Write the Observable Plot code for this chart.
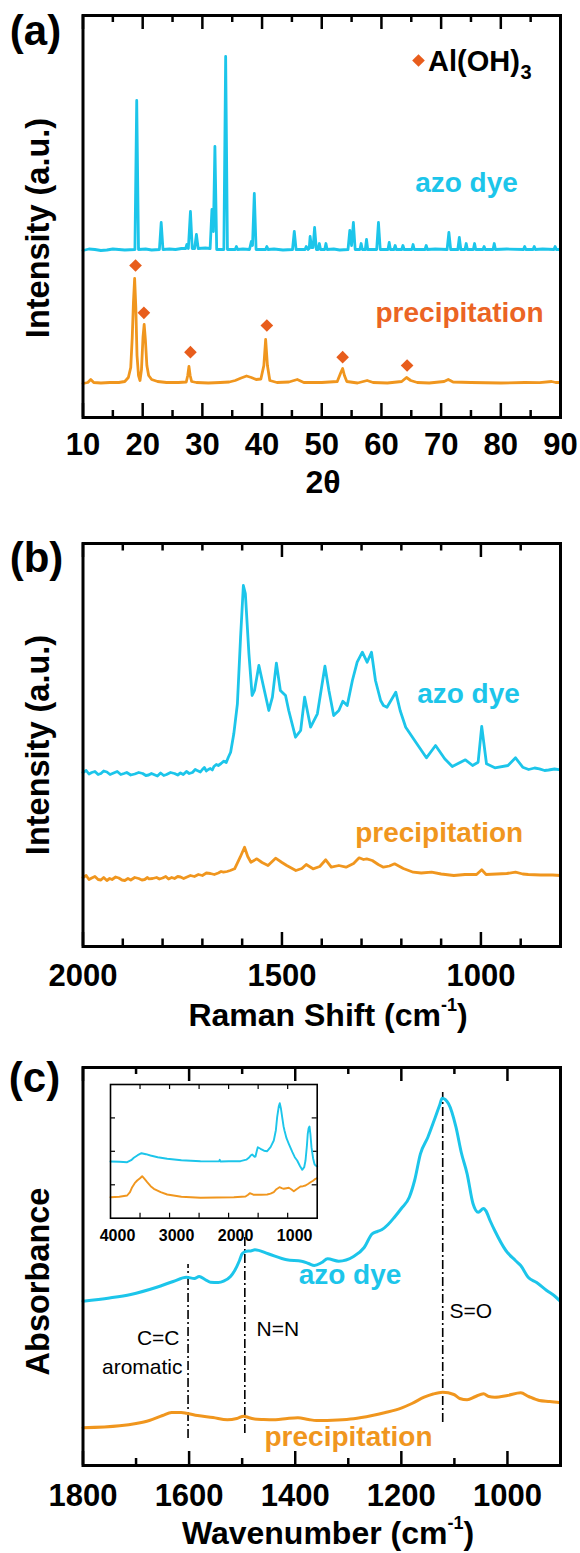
<!DOCTYPE html>
<html>
<head>
<meta charset="utf-8">
<script src="https://cdn.jsdelivr.net/npm/d3@7"></script>
<script src="https://cdn.jsdelivr.net/npm/@observablehq/plot@0.6"></script>
<style>
  body { margin: 0; background: #fff; }
  #wrap { position: relative; width: 580px; height: 1553px; overflow: hidden; background: #fff;
          font-family: "Liberation Sans", Arial, Helvetica, sans-serif; }
  #wrap svg { position: absolute; display: block; overflow: visible; }
  .title { position: absolute; font-weight: bold; font-size: 32px; line-height: 1; white-space: nowrap;
           transform: translateX(-50%); color: #000; }
  .title sup { font-size: 18px; vertical-align: baseline; position: relative; top: -15px; }
</style>
</head>
<body>
<div id="wrap"></div>
<script>
// ---------------- DATA ----------------
// (a) XRD: [2theta, intensity a.u.]
const xrdAzoDye = [
  [10,167],[11,168.5],[12,168],[13,167],[14,167.5],[15,168.5],[16,168],[17,167.5],[18.7,168],[19.0,317],[19.3,168],
  [20.5,168.5],[21.5,167.5],[22.8,168],[23.1,195],[23.4,168],[24.5,168.5],[25.5,168],
  [26.5,169],[27.2,169],[27.4,173],[27.65,169],[28.0,206],[28.3,169],[28.7,169],[29.0,183],[29.3,169],
  [30.5,169.5],[31.3,169],[31.6,208],[31.85,186],[32.1,271],[32.4,168],
  [33.6,168],[33.9,361],[34.2,168],
  [35.5,168],[35.7,171],[35.9,168],[36.8,168.5],
  [37.9,168],[38.2,176],[38.4,172],[38.7,224],[39.0,168],
  [40.6,168],[40.8,171],[41.0,168],[42,168.5],[43.5,167.5],
  [45.1,168],[45.4,186],[45.7,168],
  [47.2,168],[47.4,171],[47.7,168],[47.9,169],[48.05,181],[48.3,170],[48.55,170],[48.8,190],[49.1,168],[49.4,168],[49.6,174],[49.8,168],
  [50.5,168],[50.7,174],[50.9,168],[52,168.5],[53,167.5],
  [54.4,168],[54.7,187],[55.0,172],[55.3,195],[55.6,168],
  [56.4,168],[56.6,174],[56.8,168],[57.3,168],[57.5,178],[57.7,168],
  [59.2,168],[59.5,195],[59.8,168],
  [61.1,168],[61.3,175],[61.5,168],[62.1,168],[62.3,172],[62.5,168],[63.4,168],[63.6,172],[63.8,168],
  [65.1,168],[65.3,173],[65.5,168],[67.3,168],[67.5,172],[67.7,168],[69,168.5],
  [71.0,168],[71.3,185],[71.6,168],[72.8,168],[73.05,180],[73.3,168],[74.0,168],[74.2,174],[74.4,168],
  [75.4,168],[75.6,174],[75.8,168],[77.0,168],[77.2,171],[77.4,168],[78.7,168],[78.9,174],[79.1,168],
  [81,168.5],[83.8,168],[84.0,171],[84.2,168],[85.4,168],[85.6,171],[85.8,168],[87,168.5],[88.9,168],[89.1,171],[89.3,168],[90,168]
];
const xrdPrecip = [
  [10,34],[10.8,35],[11.3,38],[11.8,35],[13,34.5],[14.5,35],[16,35],[17.0,36],[17.6,40],[18.0,50],
  [18.25,80],[18.45,115],[18.65,139],[18.85,110],[19.05,62],[19.3,42],[19.55,37],[19.8,48],[20.05,80],
  [20.25,93],[20.45,78],[20.7,52],[21.0,42],[21.5,38],[22.5,36],[24,35],[26,35],[27.3,35.5],[27.55,42],
  [27.75,51],[27.95,42],[28.2,36],[29,35],[31,34.5],[33,35],[34.5,35.5],[35.5,37],[36.5,39.5],[37.4,41.5],
  [38.2,40],[39.0,38],[39.8,38.5],[40.3,52],[40.6,78],[40.9,52],[41.3,37],[42.5,35],[44.5,35.5],[45.9,38],
  [47,35],[50,35],[52.6,36],[53.2,45],[53.5,49],[53.8,42],[54.2,36],[56,34.5],[57.6,37],[58.6,35],[61,34.5],
  [63.4,36],[64.2,40],[64.9,37],[66,35],[68,34.5],[70.5,36],[71.2,38],[72,35.5],[75,35],[80,34.5],[84,35],
  [86.5,34.8],[88.5,36],[89.2,35],[90,35]
];
// Al(OH)3 reflections marked with diamonds: [2theta, marker height]
const gibbsitePeaks = [[18.8,152],[20.2,104.7],[28.0,65.3],[40.8,92],[53.5,60.3],[64.3,52]];
const xrdTickLabels = [10,20,30,40,50,60,70,80,90];
const xrdMinorTicks = [15,25,35,45,55,65,75,85];

// (b) Raman: [Raman shift cm-1, intensity a.u.]
const ramanAzoDye = [
  [2000,174],[1992,176],[1985,172.5],[1978,174],[1970,175],[1962,172],[1955,173],[1948,175.5],[1940,174.5],[1932,172],
  [1923,173.5],[1914,175],[1905,172],[1897,173],[1890,174],[1880,171.5],[1870,172.5],[1860,174],[1850,173],[1842,171],
  [1835,171.5],[1828,173],[1822,172],[1813,170.5],[1805,173.5],[1797,171],[1790,172],[1780,174],[1770,173],[1762,171.5],
  [1755,173.5],[1748,172],[1740,175],[1733,173],[1725,174],[1718,177],[1713,176],[1705,174.5],[1700,177],[1695,179],
  [1690,175.5],[1685,177],[1680,178],[1675,176.5],[1671,180],[1665,182],[1660,181],[1653,183],[1646,185.3],[1640,184],
  [1635,189],[1629,194.3],[1621,212.7],[1612,242.7],[1604,309.3],[1597,361],[1592,353],[1583,292.7],[1575,251],[1569,256],[1558,281],
  [1546,259.3],[1533,236],[1524,249.3],[1514,283.3],[1504,256],[1491,251],[1483,236],[1466,209.3],[1453,216],
  [1443,249.3],[1428,219.3],[1411,232.7],[1403,252.7],[1392,280.3],[1382,256],[1370,231],[1357,236],[1347,245.3],
  [1336,241],[1323,266],[1311,284.3],[1298,294.3],[1286,284.3],[1275,294.3],[1265,266],[1252,246],[1245,241],
  [1236,239.3],[1214,254.3],[1203,236],[1189,219.3],[1161,202.7],[1137,188.7],[1114,201],[1091,187.7],[1072,180],
  [1039,186.7],[1021,181],[1007,184.3],[998,220],[986,182.7],[965,178.7],[932,181],[913,188.7],[895,179.3],
  [880,177],[865,178.5],[853,177.7],[840,176],[830,176.5],[815,177.5],[800,176.7]
];
const ramanPrecip = [
  [2000,69],[1992,71],[1985,67],[1978,68.5],[1970,70],[1962,67],[1955,66.5],[1948,69],[1940,66],[1933,68],
  [1927,67],[1918,69.5],[1910,68.5],[1902,66.5],[1895,66],[1887,68],[1880,66.5],[1870,69],[1860,68],[1852,66.5],
  [1845,67],[1838,69],[1834,67.7],[1825,68],[1815,69],[1808,67.5],[1800,68.5],[1792,70],[1785,67.5],[1777,69],
  [1770,68],[1762,70],[1755,69.5],[1747,68],[1740,69.3],[1730,71],[1720,70],[1710,72],[1700,71],[1690,73.5],
  [1680,73],[1670,72],[1660,73.5],[1653,75],[1647,74.3],[1638,75],[1630,76],[1619,77.7],[1605,89.3],[1594,99.3],[1586,90],[1578,84.3],
  [1563,87.7],[1550,84],[1535,81],[1516,88.3],[1500,84],[1488,81],[1465,76],[1450,78],[1439,82],[1422,77.7],
  [1405,80],[1390,86.7],[1376,79.3],[1357,81],[1339,79.3],[1320,83],[1306,88.7],[1295,87],[1287,87.7],[1273,86],
  [1258,82],[1245,79.3],[1230,80.5],[1217,82.7],[1195,78],[1170,74.3],[1150,73.5],[1124,74.3],[1100,72.5],
  [1068,71],[1040,72],[1011,72],[998,76.7],[987,72],[960,72.5],[935,73],[913,74.3],[895,72.5],[881,72],
  [850,71.5],[820,71.5],[800,71]
];
const ramanTickLabels = [2000,1500,1000];
const ramanMinorTicks = [1900,1800,1700,1600,1400,1300,1200,1100,900];

// (c) FTIR: [wavenumber cm-1, absorbance a.u.]
const ftirAzoDye = [
  [1800,164.3],[1750,167.5],[1710,171],[1661,178.3],[1630,184],[1605,188.3],[1590,187],[1581,189],[1570,186],
  [1560,183.3],[1545,183],[1535,184.3],[1522,189],[1514,195],[1505,205],[1500,211.7],[1492,214.3],[1484,214.5],
  [1476,215.7],[1451,211.7],[1416,205.7],[1388,204.3],[1375,202],[1364,200],[1350,203],[1339,206.7],[1318,204.3],
  [1290,209],[1270,218],[1255,231.7],[1245,234],[1237,235.7],[1225,241],[1213,248.3],[1200,257],[1185,268.3],
  [1175,285],[1164,311.7],[1150,328.3],[1136,348.3],[1128,360],[1123,367.3],[1111,361.7],[1097,338.3],[1087,313],
  [1076,291.7],[1065,262],[1055,253.3],[1045,257],[1041,255],[1032,244],[1024,235],[1003,215],[985,205],[975,200],
  [961,188.3],[945,183],[926,175],[910,169],[900,164]
];
const ftirPrecip = [
  [1800,37.7],[1731,39.7],[1700,42],[1675,45],[1650,50],[1633,53],[1615,53],[1605,52.3],[1584,50],[1555,48],
  [1528,45.7],[1510,47],[1497,49.3],[1488,48],[1479,46.7],[1460,46],[1437,45.7],[1415,47],[1395,47.7],[1375,46],
  [1360,45],[1320,45.5],[1290,46.7],[1255,50],[1230,53],[1199,57.7],[1180,62],[1157,68.3],[1140,71.5],[1122,73.3],
  [1101,71],[1090,67],[1076,65.7],[1060,69],[1045,71.7],[1035,69],[1024,68.3],[1000,70],[975,72.7],[960,69],
  [940,65],[920,64],[900,62.7]
];
// band markers: [wavenumber, lower end, upper end]
const ftirBands = [[1602,27,201],[1495,32,230],[1122,43,373]];
const ftirTickLabels = [1800,1600,1400,1200,1000];
const ftirMinorTicks = [1700,1500,1300,1100,900];

// (c) inset, full range FTIR
const insetAzoDye = [
  [4000,56.7],[3850,56.5],[3718,56],[3650,58],[3605,60.4],[3540,63],[3475,65],[3400,64],[3323,62.7],[3200,61],
  [3040,59.4],[2800,58],[2476,57],[2200,56.8],[2160,57],[2150,58.4],[2138,56.7],[2000,57],[1799,57],[1700,58.5],
  [1658,60.4],[1620,63],[1601,63.7],[1560,61.5],[1545,61.7],[1520,68],[1506,71],[1460,69.4],[1400,67.5],[1347,67],
  [1290,71],[1235,77.7],[1200,88],[1178,101],[1150,112],[1134,115],[1115,110],[1093,101],[1070,92],[1054,87.7],
  [1020,80],[981,74.4],[920,66],[880,61],[839,57.7],[790,52],[754,48.4],[720,51],[698,57.7],[675,72],[660,84.4],
  [645,90],[630,91.7],[615,84],[597,71],[570,60],[545,54],[529,52.7],[500,51.7]
];
const insetPrecip = [
  [4000,21],[3850,21.5],[3718,22.7],[3670,26],[3633,31],[3590,35],[3548,37.7],[3500,40],[3464,42],[3420,39],
  [3379,36],[3320,32],[3266,29.4],[3150,26],[3040,23.7],[2800,21.5],[2476,20.4],[2200,20.7],[1912,21],[1714,21.7],
  [1670,23.5],[1641,25],[1600,24],[1574,23.4],[1450,23.5],[1347,23.7],[1290,24.5],[1235,26],[1190,29],[1139,31],
  [1100,30],[1066,29.4],[1020,30],[981,30.4],[940,29],[896,27],[850,29],[783,31.7],[740,32],[698,32.7],[650,34.5],
  [613,36],[570,37.5],[529,39.4],[500,40]
];
const insetTickLabels = [4000,3000,2000,1000];
const insetXTicks = [3500,3000,2500,2000,1500,1000];
const insetYTicks = [33.4,66.9,100.3];

// ---------------- STYLE ----------------
const CYAN = "#1cc5ea", ORANGE = "#f0961e", RED = "#e85d1c";
const FONT = '"Liberation Sans", Arial, Helvetica, sans-serif';
const wrap = document.getElementById("wrap");

function place(el, left, top) {
  el.style.left = left + "px"; el.style.top = top + "px"; wrap.appendChild(el);
}
function edgeTicks(H, major, minor, longLen, shortLen, sw) {
  const m = [];
  for (const [vals, len] of [[major, longLen], [minor, shortLen]]) {
    m.push(Plot.ruleX(vals, {x: d => d, insetTop: H - len, stroke: "#000", strokeWidth: sw}));
    m.push(Plot.ruleX(vals, {x: d => d, insetBottom: H - len, stroke: "#000", strokeWidth: sw}));
  }
  return m;
}
// text placed in page pixels relative to the frame's top-left corner
function label(P, str, px, py, o = {}) {
  return Plot.text([str], {
    text: d => d, frameAnchor: "top-left",
    dx: px - P.ml, dy: py - (P.top + P.mt),
    fontSize: 28, fontWeight: "bold", fill: "#000", lineAnchor: "middle", textAnchor: "middle", ...o
  });
}
const xy = {x: d => d[0], y: d => d[1]};

// ---------------- PANEL (a) ----------------
const PA = {top: 0, height: 510, ml: 82.5, mr: 20, mt: 15, mb: 93};
const HA = PA.height - PA.mt - PA.mb;
const plotA = Plot.plot({
  width: 580, height: PA.height,
  marginLeft: PA.ml, marginRight: PA.mr, marginTop: PA.mt, marginBottom: PA.mb,
  x: {domain: [10, 90], axis: null}, y: {domain: [0, HA], axis: null},
  style: {fontFamily: FONT, background: "transparent", overflow: "visible"},
  marks: [
    ...edgeTicks(HA, xrdTickLabels, xrdMinorTicks, 14, 7, 2.5),
    Plot.line(xrdAzoDye, {...xy, stroke: CYAN, strokeWidth: 2.8}),
    Plot.line(xrdPrecip, {...xy, stroke: ORANGE, strokeWidth: 2.8}),
    Plot.dot(gibbsitePeaks, {...xy, symbol: "diamond2", r: 5.7, fill: RED, stroke: "none"}),
    Plot.frame({stroke: "#000", strokeWidth: 3}),
    Plot.text(xrdTickLabels, {x: d => d, text: d => String(d), frameAnchor: "bottom", dy: 445 - 417,
      fontSize: 31, fontWeight: "bold", fill: "#000", lineAnchor: "middle", textAnchor: "middle"}),
    label(PA, "azo dye", 466, 183, {fill: CYAN}),
    label(PA, "precipitation", 459, 313, {fill: "#eb6424"}),
    Plot.dot([0], {frameAnchor: "top-left", dx: 418 - PA.ml, dy: 60 - PA.mt, symbol: "diamond2", r: 5.7, fill: RED, stroke: "none"}),
    label(PA, "Al(OH)", 427.5, 61, {textAnchor: "start", fontSize: 29}),
    label(PA, "3", 520, 72, {textAnchor: "start", fontSize: 20}),
    label(PA, "(a)", 35, 15, {fontSize: 42, lineAnchor: "top"}),
    label(PA, "Intensity (a.u.)", 37.6, 227.5, {fontSize: 32.5, rotate: -90}),
    label(PA, "2θ", 322.6, 482.5, {fontSize: 32})
  ]
});
place(plotA, 0, PA.top);

// ---------------- PANEL (b) ----------------
const PB = {top: 510, height: 530, ml: 82.5, mr: 20, mt: 33, mb: 94};
const HB = PB.height - PB.mt - PB.mb;
const plotB = Plot.plot({
  width: 580, height: PB.height,
  marginLeft: PB.ml, marginRight: PB.mr, marginTop: PB.mt, marginBottom: PB.mb,
  x: {domain: [2000, 800], axis: null}, y: {domain: [0, HB], axis: null},
  style: {fontFamily: FONT, background: "transparent", overflow: "visible"},
  marks: [
    ...edgeTicks(HB, ramanTickLabels, ramanMinorTicks, 14, 7.5, 2.5),
    Plot.line(ramanAzoDye, {...xy, stroke: CYAN, strokeWidth: 2.8}),
    Plot.line(ramanPrecip, {...xy, stroke: ORANGE, strokeWidth: 2.8}),
    Plot.frame({stroke: "#000", strokeWidth: 3}),
    Plot.text(ramanTickLabels, {x: d => d, text: d => String(d), frameAnchor: "bottom", dy: 976 - 946,
      fontSize: 31, fontWeight: "bold", fill: "#000", lineAnchor: "middle", textAnchor: "middle"}),
    label(PB, "azo dye", 468, 694, {fill: CYAN}),
    label(PB, "precipitation", 438.7, 833, {fill: ORANGE}),
    label(PB, "(b)", 36, 542, {fontSize: 42, lineAnchor: "top"}),
    label(PB, "Intensity (a.u.)", 37.6, 744.5, {fontSize: 32.5, rotate: -90})
  ]
});
place(plotB, 0, PB.top);

// ---------------- PANEL (c) ----------------
const PC = {top: 1040, height: 513, ml: 82.5, mr: 20, mt: 27, mb: 88};
const HC = PC.height - PC.mt - PC.mb;
const plotC = Plot.plot({
  width: 580, height: PC.height,
  marginLeft: PC.ml, marginRight: PC.mr, marginTop: PC.mt, marginBottom: PC.mb,
  x: {domain: [1800, 900], axis: null}, y: {domain: [0, HC], axis: null},
  style: {fontFamily: FONT, background: "transparent", overflow: "visible"},
  marks: [
    ...edgeTicks(HC, ftirTickLabels, ftirMinorTicks, 14, 7, 2.5),
    Plot.ruleX(ftirBands, {x: d => d[0], y1: d => d[1], y2: d => d[2], stroke: "#000", strokeWidth: 1.6,
      strokeDasharray: "9,3,2,3"}),
    Plot.line(ftirAzoDye, {...xy, stroke: CYAN, strokeWidth: 3, curve: "monotone-x"}),
    Plot.line(ftirPrecip, {...xy, stroke: ORANGE, strokeWidth: 3, curve: "monotone-x"}),
    Plot.frame({stroke: "#000", strokeWidth: 3}),
    Plot.text(ftirTickLabels, {x: d => d, text: d => String(d), frameAnchor: "bottom", dy: 1496 - 1465,
      fontSize: 31, fontWeight: "bold", fill: "#000", lineAnchor: "middle", textAnchor: "middle"}),
    label(PC, "azo dye", 349.5, 1275, {fill: CYAN}),
    label(PC, "precipitation", 348, 1437, {fill: ORANGE}),
    label(PC, "C=C", 179, 1337.5, {fontSize: 21, fontWeight: "normal", textAnchor: "end"}),
    label(PC, "aromatic", 182, 1366.3, {fontSize: 21, fontWeight: "normal", textAnchor: "end"}),
    label(PC, "N=N", 256, 1329, {fontSize: 21, fontWeight: "normal", textAnchor: "start"}),
    label(PC, "S=O", 449, 1311, {fontSize: 21, fontWeight: "normal", textAnchor: "start"}),
    label(PC, "(c)", 34, 1062, {fontSize: 42, lineAnchor: "top"}),
    label(PC, "Absorbance", 37.6, 1281, {fontSize: 32.5, rotate: -90})
  ]
});
place(plotC, 0, PC.top);

// ---------------- INSET ----------------
const PI = {left: 90, top: 1074, width: 240, height: 180, ml: 20, mr: 13.3, mt: 10, mb: 36.3};
const HI = PI.height - PI.mt - PI.mb;
const WI = PI.width - PI.ml - PI.mr;
const plotI = Plot.plot({
  width: PI.width, height: PI.height,
  marginLeft: PI.ml, marginRight: PI.mr, marginTop: PI.mt, marginBottom: PI.mb,
  x: {domain: [4000, 500], axis: null}, y: {domain: [0, HI], axis: null},
  style: {fontFamily: FONT, background: "transparent", overflow: "visible"},
  marks: [
    Plot.ruleX(insetXTicks, {x: d => d, insetTop: HI - 5, stroke: "#000", strokeWidth: 1.2}),
    Plot.ruleX(insetXTicks, {x: d => d, insetBottom: HI - 5, stroke: "#000", strokeWidth: 1.2}),
    Plot.ruleY(insetYTicks, {y: d => d, insetRight: WI - 5, stroke: "#000", strokeWidth: 1.2}),
    Plot.ruleY(insetYTicks, {y: d => d, insetLeft: WI - 5, stroke: "#000", strokeWidth: 1.2}),
    Plot.line(insetAzoDye, {...xy, stroke: CYAN, strokeWidth: 1.9}),
    Plot.line(insetPrecip, {...xy, stroke: ORANGE, strokeWidth: 1.9}),
    Plot.frame({stroke: "#000", strokeWidth: 1.6}),
    Plot.text(insetTickLabels, {x: d => d, text: d => String(d), frameAnchor: "bottom", dx: 7, dy: 1235 - 1217.7,
      fontSize: 16, fontWeight: "bold", fill: "#000", lineAnchor: "middle", textAnchor: "middle"})
  ]
});
place(plotI, PI.left, PI.top);

// ---------------- axis titles with superscripts ----------------
function title(html, cx, cy) {
  const d = document.createElement("div");
  d.className = "title"; d.innerHTML = html;
  place(d, cx, cy - 15.6);
}
title("Raman Shift (cm<sup>-1</sup>)", 328, 1015);
title("Wavenumber (cm<sup>-1</sup>)", 328, 1533);
</script>
</body>
</html>
